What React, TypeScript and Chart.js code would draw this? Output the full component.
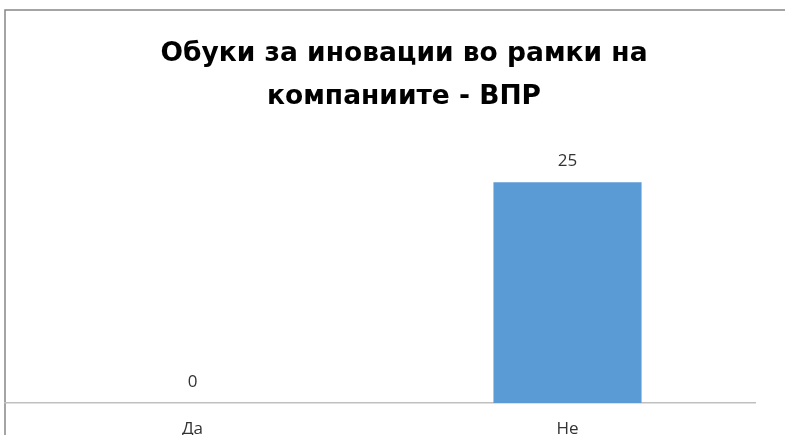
import React, { useEffect, useRef } from "react";
import { Chart, registerables } from "chart.js";

Chart.register(...registerables);

const categories: string[] = ["Да", "Не"];
const values: number[] = [0, 25];
const titleLines: string[] = ["Обуки за иновации во рамки на", "компаниите - ВПР"];
const yMax = 30;

const framePlugin = {
  id: "frame",
  beforeDraw(chart: any) {
    const ctx = chart.ctx;
    ctx.save();
    ctx.strokeStyle = "#878787";
    ctx.lineWidth = 1.5;
    ctx.beginPath();
    ctx.moveTo(5, chart.height);
    ctx.lineTo(5, 10);
    ctx.lineTo(chart.width, 10);
    ctx.stroke();
    // title, centred on the full (cropped) chart frame
    ctx.fillStyle = "#000000";
    ctx.font = "bold 26.5px 'DejaVu Sans'";
    ctx.textAlign = "center";
    ctx.textBaseline = "middle";
    const lineH = 43.5;
    titleLines.forEach((t, i) => {
      ctx.fillText(t, 404, 54 + i * lineH);
    });
    ctx.restore();
  },
};

const labelPlugin = {
  id: "valueLabels",
  afterDatasetsDraw(chart: any) {
    const ctx = chart.ctx;
    const meta = chart.getDatasetMeta(0);
    ctx.save();
    ctx.fillStyle = "#333333";
    ctx.font = "17px 'Open Sans'";
    ctx.textAlign = "center";
    ctx.textBaseline = "middle";
    meta.data.forEach((bar: any, i: number) => {
      ctx.fillText(String(values[i]), bar.x, bar.y - 21);
    });
    ctx.restore();
  },
};

export default function App() {
  const ref = useRef<HTMLCanvasElement | null>(null);
  useEffect(() => {
    document.body.style.margin = "0";
    const chart = new Chart(ref.current as HTMLCanvasElement, {
      type: "bar",
      data: {
        labels: categories,
        datasets: [
          {
            data: values,
            backgroundColor: "#5b9bd5",
            categoryPercentage: 1,
            barPercentage: 0.395,
          },
        ],
      },
      options: {
        animation: false,
        responsive: false,
        layout: { padding: { left: 5, right: 30, top: 138, bottom: 0 } },
        plugins: {
          legend: { display: false },
          tooltip: { enabled: false },
          title: { display: false },
        },
        scales: {
          x: {
            grid: { display: false, drawTicks: false },
            border: { display: true, color: "#bfbfbf", width: 1.5 },
            ticks: { color: "#333333", font: { family: "'Open Sans'", size: 17 }, padding: 16 },
            afterFit: (scale: any) => {
              scale.height = 32;
            },
          },
          y: {
            display: false,
            min: 0,
            max: yMax,
          },
        },
      },
      plugins: [framePlugin, labelPlugin],
    });
    return () => chart.destroy();
  }, []);
  return <canvas ref={ref} width={785} height={435} style={{ display: "block" }} />;
}
